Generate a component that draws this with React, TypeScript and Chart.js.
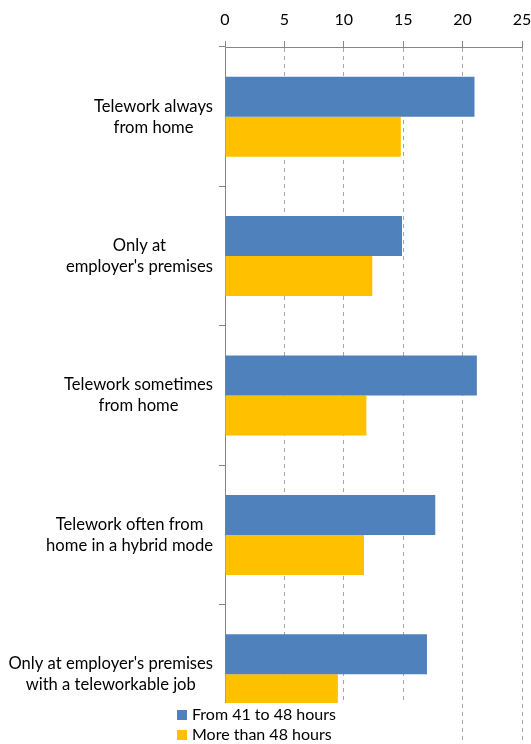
import React, { useEffect, useRef } from "react";
import { Chart, registerables } from "chart.js";

Chart.register(...registerables);

const FONT = "Lato, 'Open Sans', sans-serif";

const categories: string[][] = [
  ["Telework always", "from home"],
  ["Only at", "employer's premises"],
  ["Telework sometimes", "from home"],
  ["Telework often from", "home in a hybrid mode"],
  ["Only at employer's premises", "with a teleworkable job"],
];

const seriesNames = ["From 41 to 48 hours", "More than 48 hours"];
const from41to48 = [21.0, 14.9, 21.2, 17.7, 17.0];
const moreThan48 = [14.8, 12.4, 11.9, 11.7, 9.5];
const seriesColors = ["#4F81BD", "#FFC000"];

const xTicks = [0, 5, 10, 15, 20, 25];

const customPlugin = {
  id: "customLabelsLegend",
  afterDraw(chart: any) {
    const ctx = chart.ctx as CanvasRenderingContext2D;
    const yScale = chart.scales.y;
    ctx.save();
    // centered multi-line category labels, right-aligned as blocks
    ctx.font = `16.6px ${FONT}`;
    ctx.fillStyle = "#000";
    ctx.textAlign = "center";
    ctx.textBaseline = "middle";
    const right = yScale.right - 12;
    const lh = 21;
    categories.forEach((lines, i) => {
      const cy = yScale.getPixelForValue(i);
      const maxW = Math.max(...lines.map((l) => ctx.measureText(l).width));
      const cx = right - maxW / 2;
      const y0 = cy - ((lines.length - 1) * lh) / 2;
      lines.forEach((l, k) => ctx.fillText(l, cx, y0 + k * lh));
    });

    // legend box overlaying the bottom of the plot
    ctx.fillStyle = "#fff";
    ctx.fillRect(170, 703, 240, 41);
    ctx.font = `16px ${FONT}`;
    ctx.textAlign = "left";
    ctx.textBaseline = "middle";
    chart.data.datasets.forEach((ds: any, i: number) => {
      const cy = 715 + i * 20;
      ctx.fillStyle = ds.backgroundColor;
      ctx.fillRect(177, cy - 5, 10, 10);
      ctx.fillStyle = "#000";
      ctx.fillText(ds.label, 192, cy);
    });
    ctx.restore();
  },
};

export default function App() {
  const ref = useRef<HTMLCanvasElement | null>(null);

  useEffect(() => {
    if (!ref.current) return;
    const chart = new Chart(ref.current, {
      type: "bar",
      data: {
        labels: categories,
        datasets: [
          {
            label: seriesNames[0],
            data: from41to48,
            backgroundColor: seriesColors[0],
            borderWidth: 0,
          },
          {
            label: seriesNames[1],
            data: moreThan48,
            backgroundColor: seriesColors[1],
            borderWidth: 0,
          },
        ],
      },
      options: {
        indexAxis: "y",
        responsive: false,
        animation: false,
        devicePixelRatio: 1,
        layout: { padding: { top: 0, bottom: 0, left: 0, right: 0 } },
        datasets: {
          bar: { categoryPercentage: 0.574, barPercentage: 1.0 },
        },
        plugins: {
          legend: { display: false },
          tooltip: { enabled: false },
        },
        scales: {
          x: {
            position: "top",
            min: xTicks[0],
            max: xTicks[xTicks.length - 1],
            afterBuildTicks: (scale: any) => {
              scale.ticks = xTicks.map((v) => ({ value: v }));
            },
            afterFit: (scale: any) => {
              scale.height = 47;
              scale.paddingLeft = 0;
              scale.paddingRight = 9;
            },
            ticks: {
              font: { family: FONT, size: 16 },
              color: "#000",
              padding: 12,
              maxRotation: 0,
            },
            grid: {
              color: "#a6a6a6",
              tickColor: "#868686",
              tickLength: 6,
              drawTicks: true,
            },
            border: { display: true, color: "#868686", width: 1, dash: [4, 4] },
          },
          y: {
            afterFit: (scale: any) => {
              scale.width = 225;
              scale.paddingTop = 0;
              scale.paddingBottom = 0;
            },
            ticks: { display: false },
            grid: {
              offset: true,
              drawOnChartArea: false,
              drawTicks: true,
              tickLength: 6,
              color: "#868686",
            },
            border: { display: true, color: "#868686", width: 1 },
          },
        },
      },
      plugins: [customPlugin],
    });
    return () => chart.destroy();
  }, []);

  return (
    <div style={{ position: "absolute", left: 0, top: 0, width: 531, height: 744 }}>
      <canvas ref={ref} width={531} height={744} style={{ display: "block" }} />
    </div>
  );
}
